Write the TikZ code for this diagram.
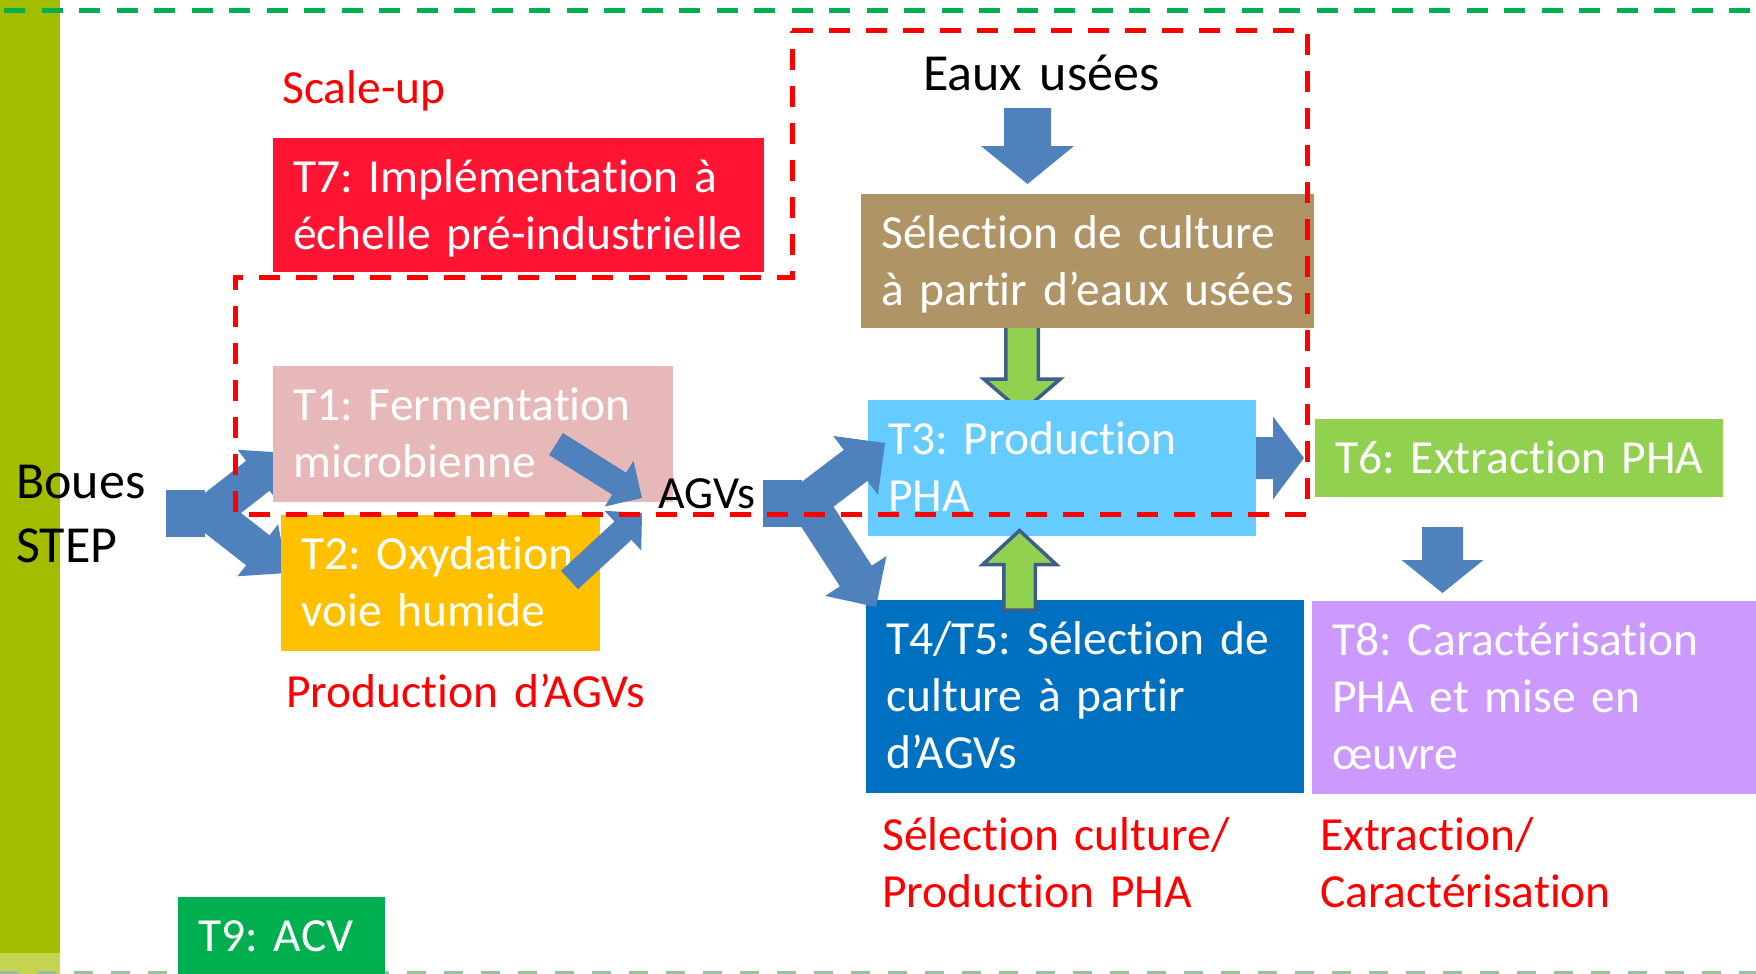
\documentclass[tikz,border=0pt]{standalone}
\usepackage{fontspec}
\setmainfont{Carlito}[Ligatures=NoCommon]
\frenchspacing
\usetikzlibrary{calc}
\definecolor{arrowblue}{HTML}{4F81BD}
\definecolor{outlineblue}{HTML}{3B5E8C}
\definecolor{tsevenred}{HTML}{FF1533}
\definecolor{tonepink}{HTML}{E6B9B8}
\definecolor{ttwoyellow}{HTML}{FFC000}
\definecolor{brownbox}{HTML}{AF9466}
\definecolor{tthreeblue}{HTML}{66CCFF}
\definecolor{tsixgreen}{HTML}{92D050}
\definecolor{tfourblue}{HTML}{0070C0}
\definecolor{teightviolet}{HTML}{CC99FF}
\definecolor{tninegreen}{HTML}{00B050}
\definecolor{stripolive}{HTML}{A3BC00}
\definecolor{striplight}{HTML}{C4D450}
\definecolor{labelred}{HTML}{FF0000}
\definecolor{bottomdash}{HTML}{9DBFA0}
\newcommand\tightspace{\spaceskip=0.17em\relax\xspaceskip=0.17em\relax}
% block arrow: #1 tail, #2 tip, #3 shaft half width, #4 head half width, #5 head length, #6 style
\newcommand\blockarrow[6]{%
  \coordinate (hbtmp) at ($(#2)!#5pt!(#1)$);
  \path[#6] ($(#1)!#3pt!90:(#2)$)
    -- ($(hbtmp)!#3pt!90:(#2)$)
    -- ($(hbtmp)!#4pt!90:(#2)$)
    -- (#2)
    -- ($(hbtmp)!#4pt!-90:(#2)$)
    -- ($(hbtmp)!#3pt!-90:(#2)$)
    -- ($(#1)!#3pt!-90:(#2)$) -- cycle;}
\begin{document}
\begin{tikzpicture}[x=1pt,y=-1pt,
  taskbox/.style={anchor=north west, inner xsep=20pt, inner ysep=0pt, text=white,
    align=left, font=\fontsize{47.5}{57}\selectfont\tightspace, text height=54pt},
  redlabel/.style={anchor=base west, inner sep=0pt, text=labelred, align=left,
    text width=420pt, font=\fontsize{47.5}{57}\selectfont\tightspace},
  blacklabel/.style={anchor=base west, inner sep=0pt, text=black, align=left,
    text width=260pt, font=\fontsize{52}{64}\selectfont\tightspace},
  bluearrow/.style={fill=arrowblue},
  greenarrow/.style={fill=tsixgreen, draw=outlineblue, line width=3.5pt, line join=miter},
  regionline/.style={draw=labelred, line width=5pt, dash pattern=on 21pt off 16pt},
]
\useasboundingbox (0,0) rectangle (1756,974);
\fill[white] (0,0) rectangle (1756,974);
% side strip
\fill[stripolive] (0,0) rectangle (60,974);
\fill[striplight] (0,953) rectangle (60,974);
% frame dashed lines
\draw[draw=tninegreen, line width=5pt, dash pattern=on 21pt off 16.5pt] (4,11) -- (1756,11);
\draw[draw=bottomdash, line width=3pt, dash pattern=on 19pt off 18pt] (0,972.5) -- (1756,972.5);
% arrows below the boxes
\coordinate (bouesUpTail) at (205,517);
\coordinate (bouesUpTip) at (287,453);
\coordinate (bouesDnTail) at (205,509);
\coordinate (bouesDnTip) at (287,573);
\fill[arrowblue] (166,490) rectangle (205,537);
\blockarrow{bouesUpTail}{bouesUpTip}{19}{33}{37}{bluearrow}
\blockarrow{bouesDnTail}{bouesDnTip}{19}{33}{37}{bluearrow}
\coordinate (greenDnTail) at (1022,322);
\coordinate (greenDnTip) at (1022,412);
\blockarrow{greenDnTail}{greenDnTip}{16.25}{38.25}{33}{greenarrow}
% boxes
\node[taskbox, fill=tsevenred, text width=451pt, text depth=80pt] (tseven) at (273,138) {\mbox{T7: Implémentation à}\\\mbox{échelle pré-industrielle}};
\node[taskbox, fill=tonepink, text width=360pt, text depth=82pt] (tone) at (273,366) {\mbox{T1: Fermentation}\\\mbox{microbienne}};
\node[taskbox, fill=ttwoyellow, text width=279pt, text depth=82pt] (ttwo) at (281,515) {\mbox{T2: Oxydation}\\\mbox{voie humide}};
\node[taskbox, fill=brownbox, text width=413pt, text depth=80pt] (tbrown) at (861,194) {\mbox{Sélection de culture}\\\mbox{à partir d’eaux usées}};
\node[taskbox, fill=tthreeblue, text width=348pt, text depth=82pt] (tthree) at (868,400) {\mbox{T3: Production}\\\mbox{PHA}};
\node[taskbox, fill=tsixgreen, text width=368pt, text depth=24pt] (tsix) at (1315,419) {\mbox{T6: Extraction PHA}};
\node[taskbox, fill=tfourblue, text width=398pt, text depth=139pt] (tfour) at (866,600) {\mbox{T4/T5: Sélection de}\\\mbox{culture à partir}\\\mbox{d’AGVs}};
\node[taskbox, fill=teightviolet, text width=420pt, text depth=139pt] (teight) at (1312,601) {\mbox{T8: Caractérisation}\\\mbox{PHA et mise en}\\\mbox{œuvre}};
\node[taskbox, fill=tninegreen, text width=167pt, text depth=25pt] (tnine) at (178,897) {\mbox{T9: ACV}};
% arrows above the boxes
\coordinate (toneTail) at (556,444);
\coordinate (toneTip) at (642,498);
\coordinate (ttwoTail) at (569.5,580);
\coordinate (ttwoTip) at (642,513);
\blockarrow{toneTail}{toneTip}{13}{27}{27}{bluearrow}
\blockarrow{ttwoTail}{ttwoTip}{12.5}{27}{26}{bluearrow}
\coordinate (agvUpTail) at (797,510);
\coordinate (agvUpTip) at (885,443);
\coordinate (agvDnTail) at (800,490);
\coordinate (agvDnTip) at (876,607);
\fill[arrowblue] (763,480) rectangle (802,527);
\blockarrow{agvUpTail}{agvUpTip}{19.5}{37}{37}{bluearrow}
\blockarrow{agvDnTail}{agvDnTip}{19}{36.5}{37}{bluearrow}
\coordinate (tthreeOut) at (1256,458);
\coordinate (tsixIn) at (1304,458);
\blockarrow{tthreeOut}{tsixIn}{21}{41.5}{31}{bluearrow}
\coordinate (eauxTail) at (1027.5,108);
\coordinate (eauxTip) at (1027.5,184);
\blockarrow{eauxTail}{eauxTip}{23.5}{46.5}{38}{bluearrow}
\coordinate (tsixOut) at (1442.5,527);
\coordinate (teightIn) at (1442.5,593);
\blockarrow{tsixOut}{teightIn}{20.5}{41}{33}{bluearrow}
\coordinate (greenUpTail) at (1019.5,610);
\coordinate (greenUpTip) at (1019.5,530.5);
\blockarrow{greenUpTail}{greenUpTip}{15.75}{36.75}{34}{greenarrow}
% labels
\node[redlabel] (scaleup) at (282,103) {Scale-up};
\node[redlabel] (prodagv) at (286,707) {Production d’AGVs};
\node[redlabel] (selprod) at (882,850) {Sélection culture/\\Production PHA};
\node[redlabel] (extcar) at (1320,850) {Extraction/\\Caractérisation};
\node[blacklabel] (boues) at (16,498) {Boues\\STEP};
\node[blacklabel] (eaux) at (923,91) {Eaux usées};
\node[blacklabel, font=\fontsize{46}{55}\selectfont] (agvs) at (658,508) {AGVs};
% scale-up region
\draw[regionline] (792,31) -- (1307,31) -- (1307,514) -- (235,514) -- (235,277) -- (792,277) -- cycle;
\end{tikzpicture}
\end{document}
